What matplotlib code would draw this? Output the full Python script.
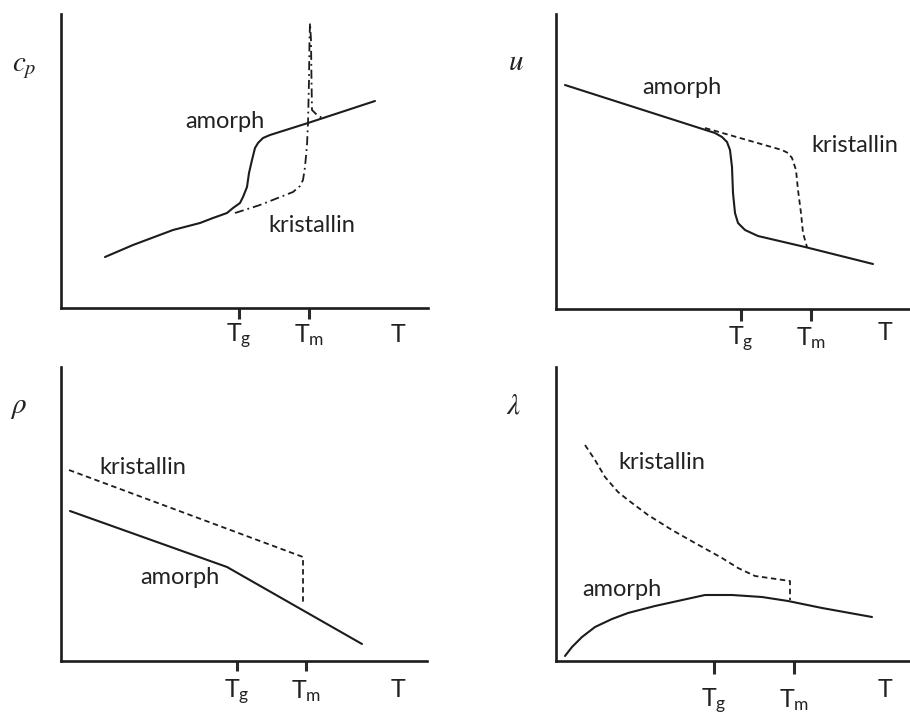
import matplotlib
matplotlib.use("Agg")
import matplotlib.pyplot as plt

plt.rcParams["font.family"] = ["Lato", "DejaVu Sans"]
plt.rcParams["mathtext.fontset"] = "custom"
plt.rcParams["mathtext.rm"] = "Lato"
plt.rcParams["mathtext.it"] = "Lato:italic"

W, H = 910, 718
INK = "#1c1c1c"

# ---- c_p(T) ----
cp_amorph_T = [44, 72, 112, 139, 152, 166, 172, 179, 182, 186, 188, 191, 194, 197, 202, 209, 247, 314]
cp_amorph_v = [51, 63, 78, 85, 90, 95, 100, 105, 111, 121, 135, 148, 160, 165, 170, 173, 185, 207]
cp_krist_T = [174, 199, 232, 239, 242, 244, 246, 247, 248, 248.5, 249, 250, 250.5, 251, 255, 261]
cp_krist_v = [95, 103, 116, 122, 128, 141, 163, 185, 228, 268, 285, 268, 228, 198, 194, 190]

# ---- u(T) ----
u_amorph_T = [9, 159, 166, 171, 174, 176, 177, 179, 182, 189, 202, 249, 317]
u_amorph_v = [224, 176, 172, 167, 159, 142, 116, 96, 86, 79, 73, 62, 45]
u_krist_T = [149, 226, 232, 236, 240, 242, 245, 247, 251]
u_krist_v = [181, 159, 156, 151, 139, 119, 96, 76, 62]

# ---- rho(T) ----
rho_amorph_T = [9, 166, 301]
rho_amorph_v = [150, 94, 17]
rho_krist_T = [8, 242, 242]
rho_krist_v = [191, 104, 57]

# ---- lambda(T) ----
lam_amorph_T = [9, 16, 26, 39, 56, 72, 99, 149, 176, 206, 232, 266, 316]
lam_amorph_v = [5, 14, 24, 34, 42, 48, 55, 66, 66, 64, 60, 53, 44]
lam_krist_T = [29, 39, 49, 62, 72, 92, 116, 139, 166, 182, 199, 234, 234]
lam_krist_v = [216, 201, 184, 169, 161, 146, 131, 118, 103, 93, 85, 80, 61]

tick_labels = [r"$\mathrm{T}_\mathrm{g}$", r"$\mathrm{T}_\mathrm{m}$"]

panels = [
    # box (l, t, r, b) px, limits, Tg, Tm, T-pos, amorph, kristallin, style, label positions, tick params
    dict(box=(61, 14, 428, 308), Tg=178, Tm=248, Tpos=337,
         am=(cp_amorph_T, cp_amorph_v), kr=(cp_krist_T, cp_krist_v), ls=(0, (5, 2.2, 1, 2.2)),
         am_lbl=(164, 186), kr_lbl=(251, 83), ticklen=7.9, base=34,
         sym=r"$c_p$", sym_xy=(24, 68)),
    dict(box=(556, 14, 910, 309), Tg=185, Tm=255, Tpos=329,
         am=(u_amorph_T, u_amorph_v), kr=(u_krist_T, u_krist_v), ls=(0, (3, 2)),
         am_lbl=(126, 222), kr_lbl=(299, 163), ticklen=8.6, base=36, Tbase=31,
         sym=r"$u$", sym_xy=(516, 62)),
    dict(box=(61, 367, 427, 661), Tg=176, Tm=245, Tpos=337,
         am=(rho_amorph_T, rho_amorph_v), kr=(rho_krist_T, rho_krist_v), ls=(0, (3, 2)),
         am_lbl=(119, 83), kr_lbl=(82, 194), ticklen=7.2, base=37, Tbase=36,
         sym=r"$\rho$", sym_xy=(18, 408)),
    dict(box=(556, 367, 910, 661), Tg=158, Tm=238, Tpos=329,
         am=(lam_amorph_T, lam_amorph_v), kr=(lam_krist_T, lam_krist_v), ls=(0, (3, 2)),
         am_lbl=(66, 71), kr_lbl=(106, 199), ticklen=9.4, base=46, Tbase=36,
         sym=r"$\lambda$", sym_xy=(513, 405)),
]

fig = plt.figure(figsize=(W / 100, H / 100), dpi=100)
fig.patch.set_facecolor("white")

for p in panels:
    l, t, r, b = p["box"]
    ax = fig.add_axes([l / W, (H - b) / H, (r - l) / W, (b - t) / H])
    ax.set_xlim(0, r - l)
    ax.set_ylim(0, b - t)
    for s in ("top", "right"):
        ax.spines[s].set_visible(False)
    for s in ("left", "bottom"):
        ax.spines[s].set_linewidth(1.9)
        ax.spines[s].set_color(INK)
    ax.set_yticks([])
    px_to_pt = 72 / 100
    ax.set_xticks([p["Tg"], p["Tm"]], tick_labels)
    ax.tick_params(axis="x", length=p["ticklen"], width=2.2, color="#2a2a2a",
                   pad=(p["base"] - p["ticklen"] / px_to_pt) * px_to_pt,
                   labelsize=18, labelcolor="#222222")
    for lab in ax.get_xticklabels():
        lab.set_verticalalignment("baseline")

    ax.plot(*p["am"], color=INK, lw=1.5, solid_joinstyle="round", solid_capstyle="round")
    ax.plot(*p["kr"], color=INK, lw=1.3, linestyle=p["ls"])

    ax.text(*p["am_lbl"], "amorph", fontsize=17, color="#222222", ha="center", va="center")
    ax.text(*p["kr_lbl"], "kristallin", fontsize=17, color="#222222", ha="center", va="center")

    ax.annotate("T", xy=(p["Tpos"], 0), xycoords=("data", "axes fraction"),
                xytext=(0, -p.get("Tbase", 34) * px_to_pt), textcoords="offset points",
                ha="center", va="baseline", fontsize=18, color="#222222",
                annotation_clip=False)

    sx, sy = p["sym_xy"]
    fig.text(sx / W, 1 - sy / H, p["sym"], math_fontfamily="stix", fontsize=21,
             color="#222222", ha="center", va="center")

fig.savefig("out.png", dpi=100, facecolor="white")
